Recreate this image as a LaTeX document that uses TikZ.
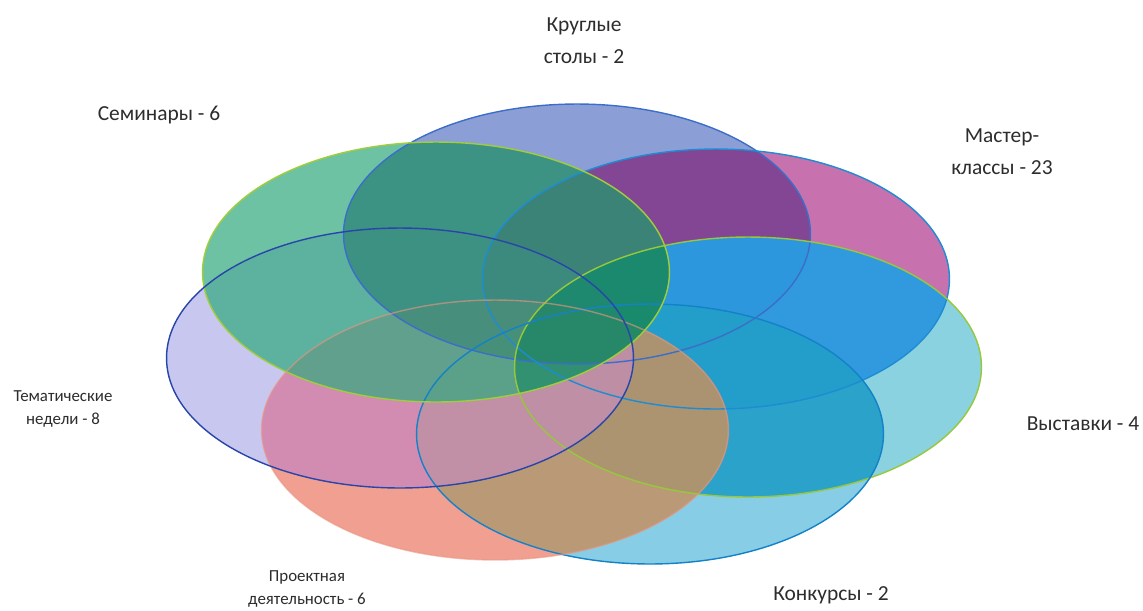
\documentclass[tikz,border=0pt]{standalone}
\usepackage{fontspec}
\setmainfont{Carlito}
\usetikzlibrary{shapes.geometric}
\definecolor{fkr}{RGB}{91,119,198}
\definecolor{lkr}{RGB}{60,110,200}
\definecolor{fma}{RGB}{176,55,141}
\definecolor{lma}{RGB}{30,140,210}
\definecolor{fvy}{RGB}{91,191,212}
\definecolor{lvy}{RGB}{150,200,60}
\definecolor{fko}{RGB}{84,184,219}
\definecolor{lko}{RGB}{20,130,200}
\definecolor{fpr}{RGB}{234,119,98}
\definecolor{lpr}{RGB}{236,150,130}
\definecolor{fse}{RGB}{48,169,126}
\definecolor{lse}{RGB}{160,205,60}
\definecolor{fte}{RGB}{145,145,225}
\definecolor{lte}{RGB}{40,70,170}
\definecolor{okrma}{RGB}{110,60,140}
\definecolor{ovyma}{RGB}{25,150,230}
\definecolor{okovy}{RGB}{20,150,195}
\definecolor{oprko}{RGB}{170,165,100}
\definecolor{oprte}{RGB}{200,140,215}
\definecolor{osekr}{RGB}{40,120,100}
\definecolor{osevy}{RGB}{10,130,90}
\definecolor{txt}{RGB}{45,45,45}
\tikzset{
  venn/.style={ellipse, inner sep=0pt, minimum width=9.34cm, minimum height=5.2cm, fill opacity=0.7},
  er/.style={x radius=4.67cm, y radius=2.6cm},
  rim/.style={line width=0.8pt},
  biglabel/.style={text=txt, align=center, font=\fontsize{12.2}{18.2}\selectfont},
  smalllabel/.style={text=txt, align=center, font=\fontsize{9.6}{13.5}\selectfont}
}
\begin{document}
\begin{tikzpicture}[x=0.02cm, y=-0.02cm]
\useasboundingbox (0,0) rectangle (1143,610);
\fill[white] (0,0) rectangle (1143,610);
% fills, bottom to top
\node[venn, fill=fkr] (kr) at (577,234) {};
\node[venn, fill=fma] (ma) at (716,279) {};
\begin{scope}
  \clip (kr.center) ellipse [er];
  \fill[okrma, fill opacity=0.6] (ma.center) ellipse [er];
\end{scope}
\node[venn, fill=fvy] (vy) at (748,367) {};
\begin{scope}
  \clip (ma.center) ellipse [er];
  \fill[ovyma, fill opacity=0.75] (vy.center) ellipse [er];
\end{scope}
\node[venn, fill=fko] (ko) at (650,434) {};
\begin{scope}
  \clip (vy.center) ellipse [er];
  \fill[okovy, fill opacity=0.7] (ko.center) ellipse [er];
\end{scope}
\node[venn, fill=fte, fill opacity=0.5] (te) at (400,358) {};
\node[venn, fill=fpr] (pr) at (495,430) {};
\begin{scope}
  \clip (ko.center) ellipse [er];
  \fill[oprko, fill opacity=0.5] (pr.center) ellipse [er];
\end{scope}
\begin{scope}
  \clip (te.center) ellipse [er];
  \fill[oprte, fill opacity=0.5] (pr.center) ellipse [er];
\end{scope}
\node[venn, fill=fse] (se) at (436,272) {};
\begin{scope}
  \clip (kr.center) ellipse [er];
  \fill[osekr, fill opacity=0.4] (se.center) ellipse [er];
\end{scope}
\begin{scope}
  \clip (vy.center) ellipse [er];
  \fill[osevy, fill opacity=0.5] (se.center) ellipse [er];
\end{scope}
% outlines
\draw[rim, lkr] (kr.center) ellipse [er];
\draw[rim, lma] (ma.center) ellipse [er];
\draw[rim, lvy] (vy.center) ellipse [er];
\draw[rim, lko] (ko.center) ellipse [er];
\draw[rim, lpr, draw opacity=0.6] (pr.center) ellipse [er];
\draw[rim, lse] (se.center) ellipse [er];
\draw[rim, lte] (te.center) ellipse [er];
% labels
\node[biglabel] (lkrt) at (584,41) {Круглые\\столы - 2};
\node[biglabel] (lset) at (159,115) {Семинары - 6};
\node[biglabel] (lmat) at (1002,152) {Мастер-\\классы - 23};
\node[biglabel] (lvyt) at (1083,424) {Выставки - 4};
\node[biglabel] (lkot) at (831,595) {Конкурсы - 2};
\node[smalllabel] (ltet) at (63,409) {Тематические\\недели - 8};
\node[smalllabel] (lprt) at (307,589) {Проектная\\деятельность - 6};
\end{tikzpicture}
\end{document}
